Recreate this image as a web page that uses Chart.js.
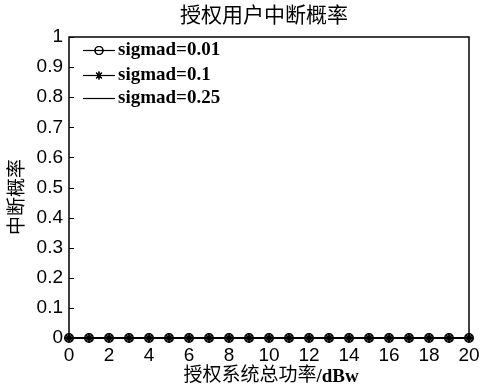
<!DOCTYPE html>
<html>
<head>
<meta charset="utf-8">
<script src="https://cdn.jsdelivr.net/npm/chart.js@4/dist/chart.umd.min.js"></script>
<style>
  html, body { margin: 0; padding: 0; background: #fff; }
  #wrap { width: 493px; height: 385px; }
</style>
</head>
<body>
<div id="wrap"><canvas id="c" width="493" height="385"></canvas></div>
<script>
// Total transmit power of the licensed system (dBw)
const powerDbw = [0, 1, 2, 3, 4, 5, 6, 7, 8, 9, 10, 11, 12, 13, 14, 15, 16, 17, 18, 19, 20];
// Outage probability of the licensed user for each sigmad
const outageSigma001 = [0, 0, 0, 0, 0, 0, 0, 0, 0, 0, 0, 0, 0, 0, 0, 0, 0, 0, 0, 0, 0];
const outageSigma01  = [0, 0, 0, 0, 0, 0, 0, 0, 0, 0, 0, 0, 0, 0, 0, 0, 0, 0, 0, 0, 0];
const outageSigma025 = [0, 0, 0, 0, 0, 0, 0, 0, 0, 0, 0, 0, 0, 0, 0, 0, 0, 0, 0, 0, 0];
const seriesNames = ['sigmad=0.01', 'sigmad=0.1', 'sigmad=0.25'];
const yTickLabels = ['0', '0.1', '0.2', '0.3', '0.4', '0.5', '0.6', '0.7', '0.8', '0.9', '1'];
const xTickValues = [0, 2, 4, 6, 8, 10, 12, 14, 16, 18, 20];
const chartTitle = '授权用户中断概率';
const xTitleMain = '授权系统总功率';
const xTitleUnit = '/dBw';
const yTitle = '中断概率';

const toPoints = (ys) => powerDbw.map((x, i) => ({ x, y: ys[i] }));

const CJK_FONT = '"Liberation Serif", "Noto Sans CJK SC", serif';
const BOLD_SERIF = 'bold 19px "Liberation Serif", "Times New Roman", serif';

// Frame, inward tick marks, titles and the in-plot legend
const framePlugin = {
  id: 'frame',
  afterDatasetsDraw(chart) {
    const { ctx, chartArea: a, scales } = chart;
    ctx.save();
    ctx.strokeStyle = '#000';
    ctx.lineWidth = 1.5;
    ctx.strokeRect(a.left, a.top, a.right - a.left, a.bottom - a.top);
    ctx.lineWidth = 1;
    ctx.beginPath();
    yTickLabels.forEach((t) => {
      const py = Math.round(scales.y.getPixelForValue(parseFloat(t))) + 0.5;
      ctx.moveTo(a.left, py);
      ctx.lineTo(a.left + 5, py);
    });
    ctx.stroke();

    // legend
    const rows = [
      { y: 50, style: 'circle', r: 4 },
      { y: 75, style: 'star', r: 4 },
      { y: 98, style: 'none', r: 0 }
    ];
    rows.forEach((row, i) => {
      ctx.strokeStyle = '#000';
      ctx.lineWidth = 1.2;
      ctx.beginPath();
      ctx.moveTo(83, row.y + 0.5);
      ctx.lineTo(115, row.y + 0.5);
      ctx.stroke();
      if (row.style !== 'none') {
        ctx.fillStyle = 'rgba(0,0,0,0)';
        Chart.helpers.drawPoint(ctx, { pointStyle: row.style, radius: row.r, borderWidth: 1.2 }, 99, row.y + 0.5);
        ctx.stroke();
      }
      ctx.fillStyle = '#000';
      ctx.font = BOLD_SERIF;
      ctx.textAlign = 'left';
      ctx.textBaseline = 'middle';
      ctx.fillText(seriesNames[i], 118, row.y);
    });

    // titles
    ctx.fillStyle = '#000';
    ctx.textBaseline = 'middle';
    ctx.textAlign = 'center';
    ctx.font = '21px ' + CJK_FONT;
    ctx.fillText(chartTitle, 264, 16);

    ctx.textAlign = 'left';
    ctx.font = '19px ' + CJK_FONT;
    const wMain = ctx.measureText(xTitleMain).width;
    ctx.font = BOLD_SERIF;
    const wUnit = ctx.measureText(xTitleUnit).width;
    const x0 = 271 - (wMain + wUnit) / 2;
    ctx.font = '19px ' + CJK_FONT;
    ctx.fillText(xTitleMain, x0, 376);
    ctx.font = BOLD_SERIF;
    ctx.fillText(xTitleUnit, x0 + wMain, 377);

    ctx.textAlign = 'center';
    ctx.font = '19px ' + CJK_FONT;
    ctx.save();
    ctx.translate(18, 197);
    ctx.rotate(-Math.PI / 2);
    ctx.fillText(yTitle, 0, 0);
    ctx.restore();
    ctx.restore();
  }
};

new Chart(document.getElementById('c'), {
  type: 'line',
  data: {
    datasets: [
      {
        label: seriesNames[0],
        data: toPoints(outageSigma001),
        borderColor: '#000',
        borderWidth: 1.5,
        backgroundColor: 'rgba(0,0,0,0)',
        pointStyle: 'circle',
        pointRadius: 4.2,
        pointBorderWidth: 1.6,
        pointBorderColor: '#000',
        pointBackgroundColor: 'rgba(0,0,0,0)',
        clip: false,
        order: 2
      },
      {
        label: seriesNames[1],
        data: toPoints(outageSigma01),
        borderColor: '#000',
        borderWidth: 1.5,
        pointStyle: 'star',
        pointRadius: 4.5,
        pointBorderWidth: 1.8,
        pointBorderColor: '#000',
        clip: false,
        order: 1
      },
      {
        label: seriesNames[2],
        data: toPoints(outageSigma025),
        borderColor: '#000',
        borderWidth: 1.5,
        pointRadius: 0,
        clip: false,
        order: 3
      }
    ]
  },
  options: {
    responsive: false,
    animation: false,
    layout: { padding: { top: 37, right: 24, left: 0, bottom: 0 } },
    plugins: {
      legend: { display: false },
      title: { display: false },
      tooltip: { enabled: false }
    },
    scales: {
      x: {
        type: 'linear',
        min: 0,
        max: 20,
        afterBuildTicks: (s) => { s.ticks = xTickValues.map((v) => ({ value: v })); },
        afterFit: (s) => { s.height = 47; },
        grid: { display: false, drawTicks: false },
        border: { display: false },
        ticks: {
          padding: 6,
          color: '#000',
          font: { family: '"Liberation Sans", Arial, sans-serif', size: 19 },
          maxRotation: 0,
          autoSkip: false
        }
      },
      y: {
        min: 0,
        max: 1,
        afterBuildTicks: (s) => { s.ticks = yTickLabels.map((t) => ({ value: parseFloat(t) })); },
        afterFit: (s) => { s.width = 69; },
        grid: { display: false, drawTicks: false },
        border: { display: false },
        ticks: {
          padding: 6,
          color: '#000',
          font: { family: '"Liberation Sans", Arial, sans-serif', size: 19 },
          callback: (v, i) => yTickLabels[i]
        }
      }
    }
  },
  plugins: [framePlugin]
});
</script>
</body>
</html>
